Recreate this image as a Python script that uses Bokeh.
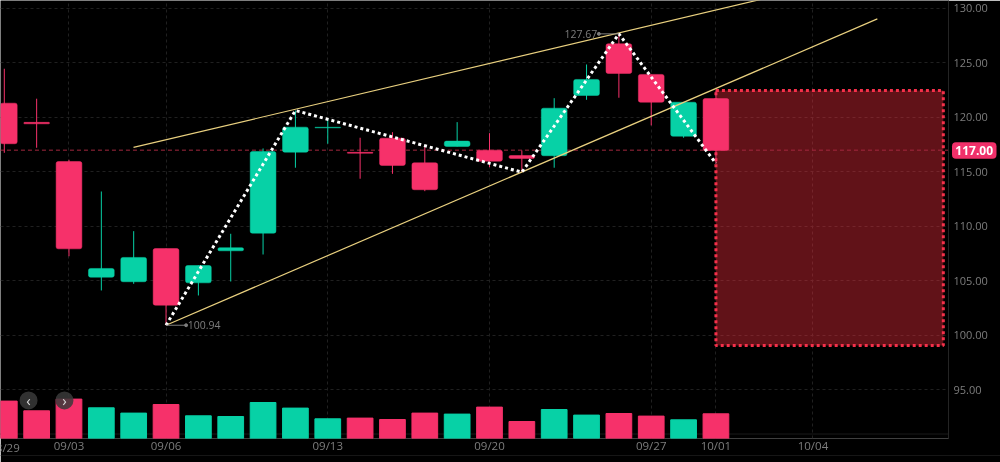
from bokeh.plotting import figure
from bokeh.models import Range1d, FixedTicker
from bokeh.core.properties import value
from bokeh.embed import file_html
from bokeh.resources import INLINE

idx = list(range(23))
opens = [121.31,119.55,115.96,105.35,104.93,107.98,104.83,107.77,109.39,116.82,119.05,116.80,118.10,115.84,117.34,117.00,116.51,116.49,122.02,126.76,123.95,118.28,121.74]
closes = [117.59,119.42,107.95,106.15,107.16,102.78,106.42,108.05,116.88,119.11,119.10,116.72,115.60,113.37,117.83,115.99,116.24,120.85,123.49,124.04,121.40,121.40,116.97]
highs = [124.47,121.72,116.12,113.21,109.57,107.98,106.42,109.33,117.16,120.64,119.88,118.14,118.65,117.43,119.57,118.56,116.97,121.77,124.86,127.67,123.95,121.40,122.48]
lows = [116.76,117.22,107.27,104.13,104.74,100.94,103.67,104.95,107.43,115.39,117.59,114.38,114.83,113.24,117.34,115.44,114.98,115.39,121.62,121.81,119.27,118.14,115.78]
volumes = [37.4,27.7,39.4,30.7,25.4,34.0,22.7,22.0,36.0,30.4,19.7,20.4,19.0,25.4,24.4,31.4,17.0,29.0,23.4,25.0,22.4,18.7,24.7]

price_ticks = [95,100,105,110,115,120,125,130]
date_ticks = {2:"09/03",5:"09/06",10:"09/13",15:"09/20",20:"09/27",22:"10/01",25:"10/04"}
clipped_tick = "08/29"

wave_x = [5,9,16,19,22]
wave_y = [100.94,120.64,114.98,127.67,115.78]
upper_x = [3.994,24.0]
upper_y = [117.25,131.26]
lower_x = [5.0,26.99]
lower_y = [100.94,129.04]
zone_left, zone_right, zone_top, zone_bottom = 22.0, 29.03, 122.47, 99.08
last_price = 117.0

RED = "#f6316a"
GREEN = "#07d1a6"
FONT = "Open Sans"
GREY = "#7d7d7d"
GRID = "#202020"

p = figure(width=1000, height=462, output_backend="svg", toolbar_location=None,
           x_range=Range1d(-0.1175, 29.19), y_range=Range1d(90.55, 130.73),
           y_axis_location="right", background_fill_color="#000000",
           border_fill_color="#000000", outline_line_color=None,
           min_border_left=0, min_border_top=0, min_border_right=52, min_border_bottom=24)
p.styles = {"position": "fixed", "left": "0", "top": "0"}
p.extra_y_ranges = {"vol": Range1d(0, 438)}

xa = p.xaxis[0]
xa.ticker = FixedTicker(ticks=list(date_ticks))
xa.major_label_overrides = dict(date_ticks)
ya = p.yaxis[0]
ya.ticker = FixedTicker(ticks=price_ticks)
ya.major_label_overrides = {t: f"{t:.2f}" for t in price_ticks}
for a in (xa, ya):
    a.major_tick_line_color = None
    a.minor_tick_line_color = None
    a.major_tick_in = 0
    a.major_tick_out = 0
    a.minor_tick_in = 0
    a.minor_tick_out = 0
    a.major_label_text_color = GREY
    a.major_label_text_font = FONT
xa.axis_line_color = None
ya.axis_line_color = "#242424"
xa.major_label_text_font_size = "11.5px"
ya.major_label_text_font_size = "11px"
xa.major_label_standoff = -1
ya.major_label_standoff = 5

p.xgrid.ticker = FixedTicker(ticks=list(date_ticks))
p.ygrid.ticker = FixedTicker(ticks=price_ticks)
for g in (p.xgrid[0], p.ygrid[0]):
    g.grid_line_color = GRID
    g.grid_line_dash = "3 3"
    g.grid_line_width = 1

p.line([-1, 30], [90.96, 90.96], line_color="#1a1a1a", line_width=1)

# zone
p.quad(left=[zone_left], right=[zone_right], top=[zone_top], bottom=[zone_bottom],
       fill_color="#ff3040", fill_alpha=0.38, line_color="#f5304a", line_width=3, line_dash="3 3")

# last price line
p.line([-1, 30], [last_price, last_price], line_color="#a3283f", line_width=1, line_dash="4 3")

# volume
vcols = [RED if c < o else GREEN for o, c in zip(opens, closes)]
p.vbar(x=idx, top=volumes, bottom=0, width=0.795, color=vcols, y_range_name="vol")

# candles
p.segment(x0=idx, x1=idx, y0=lows, y1=highs, color=vcols, line_width=1)
tops = [max(o, c) for o, c in zip(opens, closes)]
bots = [min(o, c) for o, c in zip(opens, closes)]
p.vbar(x=idx, top=tops, bottom=bots, width=0.795, fill_color=vcols, line_color=vcols, line_width=0.5, border_radius=2)

# trend lines
p.line(upper_x, upper_y, line_color="#e9d07f", line_width=1.2)
p.line(lower_x, lower_y, line_color="#e9d07f", line_width=1.2)

# wave
p.line(wave_x, wave_y, line_color="#ffffff", line_width=3, line_dash="3 3")

# value annotations
p.segment(x0=[18.38, 5.0], x1=[19.0, 5.62], y0=[127.67, 100.94], y1=[127.67, 100.94], line_color=GREY, line_width=1)
p.scatter([18.38, 5.62], [127.67, 100.94], size=3, color=GREY)
p.text([18.33], [127.67], text=["127.67"], text_align="right", text_baseline="middle",
       text_color=GREY, text_font=value(FONT), text_font_size="10.5px")
p.text([5.67], [100.94], text=["100.94"], text_align="left", text_baseline="middle",
       text_color=GREY, text_font=value(FONT), text_font_size="10.5px")

# nav buttons
p.scatter([0.75, 1.86], [94.04, 94.04], size=18, fill_color="#3a3a3a", fill_alpha=0.85, line_color=None)
p.text([0.75, 1.86], [94.1, 94.1], text=["‹", "›"], text_align="center", text_baseline="middle",
       text_color="#d8d8d8", text_font=value(FONT), text_font_size="15px")

# transparent overlay in page pixels, for what a frame-clipped annotation cannot reach
q = figure(width=1000, height=462, output_backend="svg", toolbar_location=None,
           x_range=Range1d(0, 1000), y_range=Range1d(462, 0),
           background_fill_color=None, border_fill_color=None, outline_line_color=None,
           min_border_left=0, min_border_top=0, min_border_right=0, min_border_bottom=0)
q.styles = {"position": "fixed", "left": "0", "top": "0", "pointer-events": "none"}
q.xaxis.visible = False
q.yaxis.visible = False
q.xgrid.visible = False
q.ygrid.visible = False

q.line([0, 1000], [455, 455], line_color="#161616", line_width=1)
q.text([4], [447], text=[clipped_tick], text_align="center", text_baseline="middle",
       text_color=GREY, text_font=value(FONT), text_font_size="11.5px")
q.quad(left=[951.5], right=[996], top=[141.7], bottom=[158.3], fill_color="#f0306a",
       line_color=None, border_radius=4)
q.text([973.7], [150], text=[f"{last_price:.2f}"], text_align="center", text_baseline="middle",
       text_color="#ffffff", text_font=value(FONT), text_font_size="12px", text_font_style="bold")

open("out.html", "w").write(file_html([p, q], INLINE))
